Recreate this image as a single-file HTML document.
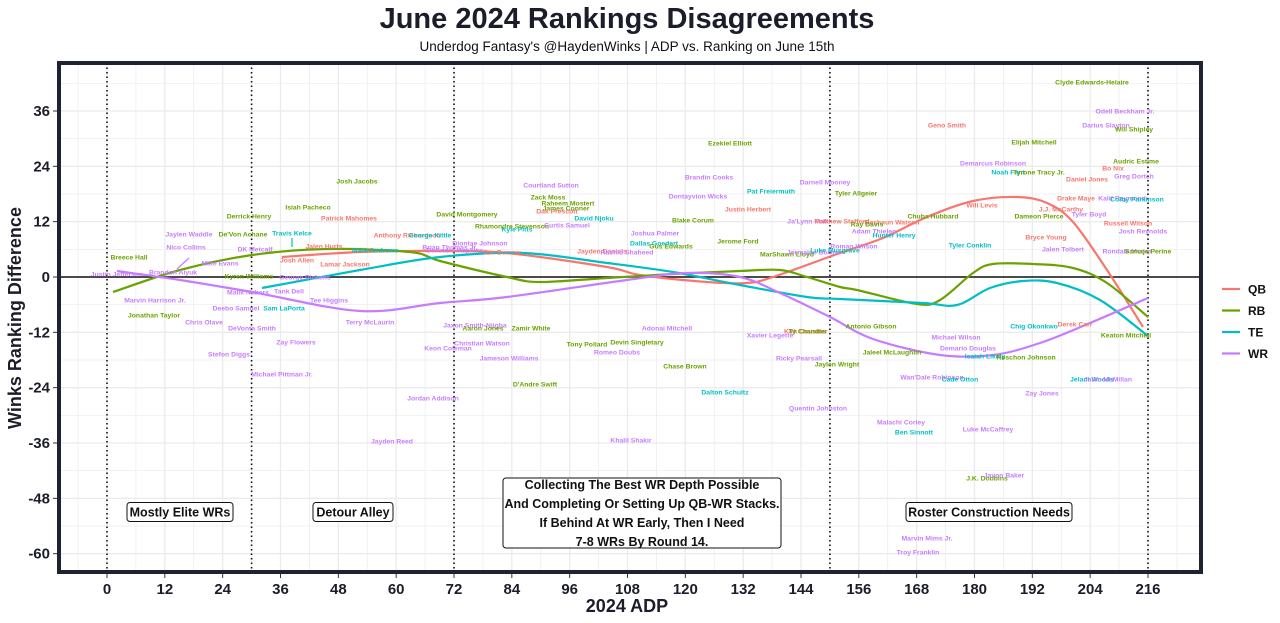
<!DOCTYPE html>
<html><head><meta charset="utf-8"><style>
html,body{margin:0;padding:0;background:#fff;width:1280px;height:623px;overflow:hidden}
svg text{font-family:"Liberation Sans",sans-serif}
</style></head><body>
<svg id="s" width="1280" height="623" xmlns="http://www.w3.org/2000/svg">
<text x="627" y="28" text-anchor="middle" font-size="29" font-weight="bold" fill="#1b1d2a">June 2024 Rankings Disagreements</text>
<text x="627" y="51" text-anchor="middle" font-size="13.5" fill="#111">Underdog Fantasy's @HaydenWinks | ADP vs. Ranking on June 15th</text>
<g id="grid"></g>
<g id="lines"></g>
<g id="labels"></g>
<g id="annot"></g>
<rect x="59" y="63" width="1142" height="509" fill="none" stroke="#1f2230" stroke-width="4"/>
<text transform="translate(21,318) rotate(-90)" text-anchor="middle" font-size="18" font-weight="bold" fill="#1b1d2a">Winks Ranking Difference</text>
<text x="627" y="612" text-anchor="middle" font-size="18" font-weight="bold" fill="#1b1d2a">2024 ADP</text>
<g id="legend"></g>
</svg>
<script>
const NS="http://www.w3.org/2000/svg";
function el(p,t,a,txt){const e=document.createElementNS(NS,t);for(const k in a)e.setAttribute(k,a[k]);if(txt!==undefined)e.textContent=txt;document.getElementById(p).appendChild(e);return e;}
const X=v=>107+v*(1041/216), Y=v=>277-v*(166/36);
// grid
for(let v=-6;v<=228;v+=6){const x=X(v);if(x<60||x>1200)continue;el('grid','line',{x1:x,x2:x,y1:63,y2:572,stroke:'#ebebeb','stroke-width':v%12==0?1.3:0.7});}
for(let v=-66;v<=48;v+=6){const y=Y(v);if(y<63||y>572)continue;el('grid','line',{x1:59,x2:1201,y1:y,y2:y,stroke:'#ebebeb','stroke-width':v%12==0?1.3:0.7});}
for(let v=0;v<=216;v+=12){el('grid','line',{x1:X(v),x2:X(v),y1:573,y2:578,stroke:'#333','stroke-width':1});el('grid','text',{x:X(v),y:594,'text-anchor':'middle','font-size':15,'font-weight':'bold',fill:'#1b1d2a'},String(v));}
for(let v=-60;v<=36;v+=12){el('grid','line',{x1:53,x2:58,y1:Y(v),y2:Y(v),stroke:'#333'});el('grid','text',{x:50,y:Y(v)+5,'text-anchor':'end','font-size':15,'font-weight':'bold',fill:'#1b1d2a'},String(v));}
el('grid','line',{x1:59,x2:1201,y1:277,y2:277,stroke:'#111','stroke-width':1.6});
[0,30,72,150,216].forEach(v=>el('grid','line',{x1:X(v),x2:X(v),y1:63,y2:572,stroke:'#111','stroke-width':1.6,'stroke-dasharray':'1.5,3'}));
const C={QB:'#F8766D',RB:'#6aa300',TE:'#00BFC4',WR:'#C77CFF'};
function path(pts){let d='M'+pts[0].join(',');for(let i=1;i<pts.length;i++){const p0=pts[i-2]||pts[i-1],p1=pts[i-1],p2=pts[i],p3=pts[i+1]||p2;const c1=[p1[0]+(p2[0]-p0[0])/6,p1[1]+(p2[1]-p0[1])/6],c2=[p2[0]-(p3[0]-p1[0])/6,p2[1]-(p3[1]-p1[1])/6];d+=`C${c1} ${c2} ${p2}`;}return d;}
const curves={
RB:[[113,292],[180,270],[252,255],[327,249],[410,252],[440,261],[507,277],[540,282],[607,278],[673,274],[740,271],[780,270],[807,277],[840,287],[857,290],[917,304],[940,300],[973,273],[993,264],[1033,264],[1073,268],[1107,283],[1148,317]],
QB:[[282,257],[360,252],[440,251],[507,253],[607,267],[640,275],[707,282],[747,283],[773,277],[840,253],[883,238],[927,217],[973,201],[1017,197],[1047,203],[1073,222],[1107,270],[1143,327]],
TE:[[262,288],[360,270],[440,257],[523,253],[607,263],[673,272],[740,285],[807,297],[840,299],[923,303],[957,305],[990,288],[1023,281],[1057,283],[1100,300],[1148,336]],
WR:[[117,271],[180,280],[252,292],[360,311],[440,303],[507,297],[627,280],[687,273],[740,277],[780,293],[830,317],[873,339],[940,355],[993,355],[1040,343],[1090,323],[1148,298]]};
for(const k of ['QB','RB','TE','WR'])el('lines','path',{d:path(curves[k]),fill:'none',stroke:C[k],'stroke-width':2.2});
el('lines','line',{x1:177,y1:269,x2:189,y2:258,stroke:C.WR,'stroke-width':1.2});
el('lines','line',{x1:292,y1:238,x2:292,y2:247,stroke:C.TE,'stroke-width':1.2});
const L=[
['Breece Hall',129,257,'RB'],['Justin Jefferson',117,274,'WR'],['Brandon Aiyuk',173,272,'WR'],['Marvin Harrison Jr.',155,300,'WR'],['Jonathan Taylor',154,315,'RB'],['Jaylen Waddle',189,234,'WR'],['Nico Collins',186,247,'WR'],['Mike Evans',220,263,'WR'],['Chris Olave',204,322,'WR'],['Derrick Henry',249,216,'RB'],["De'Von Achane",243,234,'RB'],['DK Metcalf',255,249,'WR'],['Kyren Williams',249,276,'RB'],['Malik Nabers',248,292,'WR'],['Deebo Samuel',236,308,'WR'],['DeVonta Smith',252,328,'WR'],['Stefon Diggs',229,354,'WR'],['Michael Pittman Jr.',282,374,'WR'],['Zay Flowers',296,342,'WR'],['Josh Jacobs',357,181,'RB'],['Isiah Pacheco',308,207,'RB'],['Travis Kelce',292,233,'TE'],['Jalen Hurts',324,246,'QB'],['Josh Allen',297,260,'QB'],['Lamar Jackson',345,264,'QB'],['George Pickens',305,277,'WR'],['Tank Dell',289,291,'WR'],['Sam LaPorta',284,308,'TE'],['Tee Higgins',329,300,'WR'],['Terry McLaurin',370,322,'WR'],['Patrick Mahomes',349,218,'QB'],['Anthony Richardson',407,235,'QB'],['George Kittle',430,235,'TE'],['Mark Andrews',375,250,'TE'],['Brian Thomas Jr.',450,247,'WR'],['DeAndre Hopkins',455,250,'WR'],['Joe Burrow',502,252,'QB'],['Diontae Johnson',480,243,'WR'],['David Montgomery',467,214,'RB'],['Rhamondre Stevenson',512,226,'RB'],['Kyle Pitts',517,229,'TE'],['Jaxon Smith-Njigba',475,325,'WR'],['Aaron Jones',483,328,'RB'],['Christian Watson',482,343,'WR'],['Keon Coleman',448,348,'WR'],['Jameson Williams',509,358,'WR'],['Zamir White',531,328,'RB'],["D'Andre Swift",535,384,'RB'],['Jordan Addison',433,398,'WR'],['Jayden Reed',392,441,'WR'],['Courtland Sutton',551,185,'WR'],['Zack Moss',548,197,'RB'],['Raheem Mostert',568,203,'RB'],['James Conner',566,208,'RB'],['Dak Prescott',557,211,'QB'],['David Njoku',594,218,'TE'],['Curtis Samuel',567,225,'WR'],['Jayden Daniels',602,251,'QB'],['Rashid Shaheed',627,252,'WR'],['Tony Pollard',587,344,'RB'],['Devin Singletary',637,342,'RB'],['Romeo Doubs',617,352,'WR'],['Khalil Shakir',631,440,'WR'],['Adonai Mitchell',667,328,'WR'],['Chase Brown',685,366,'RB'],['Dalton Schultz',725,392,'TE'],['Joshua Palmer',655,233,'WR'],['Dallas Goedert',654,243,'TE'],['Gus Edwards',671,246,'RB'],['Blake Corum',693,220,'RB'],['Ezekiel Elliott',730,143,'RB'],['Brandin Cooks',709,177,'WR'],['Dontayvion Wicks',698,196,'WR'],['Justin Herbert',748,209,'QB'],['Jerome Ford',738,241,'RB'],['Pat Freiermuth',771,191,'TE'],['MarShawn Lloyd',787,254,'RB'],['Darnell Mooney',825,182,'WR'],['Tyler Allgeier',856,193,'RB'],["Ja'Lynn Polk",808,221,'WR'],['Matthew Stafford',842,221,'QB'],['Deshaun Watson',892,222,'QB'],['Ray Davis',867,224,'RB'],['Adam Thielen',874,231,'WR'],['Hunter Henry',894,235,'TE'],['Jermaine Burton',814,252,'WR'],['Luke Musgrave',835,250,'TE'],['Roman Wilson',854,246,'WR'],['Xavier Legette',770,335,'WR'],['Kirk Cousins',805,331,'QB'],['Ty Chandler',808,331,'RB'],['Ricky Pearsall',799,358,'WR'],['Jaylen Wright',837,364,'RB'],['Quentin Johnston',818,408,'WR'],['Antonio Gibson',871,326,'RB'],['Jaleel McLaughlin',892,352,'RB'],['Malachi Corley',901,422,'WR'],['Ben Sinnott',914,432,'TE'],["Wan'Dale Robinson",932,377,'WR'],['Cade Otton',960,379,'TE'],['Michael Wilson',956,337,'WR'],['Demario Douglas',968,348,'WR'],['Isaiah Likely',985,356,'TE'],['Roschon Johnson',1026,357,'RB'],['Luke McCaffrey',988,429,'WR'],['J.K. Dobbins',987,478,'RB'],['Javon Baker',1004,475,'WR'],['Marvin Mims Jr.',927,538,'WR'],['Troy Franklin',918,552,'WR'],['Geno Smith',947,125,'QB'],['Elijah Mitchell',1034,142,'RB'],['Clyde Edwards-Helaire',1092,82,'RB'],['Odell Beckham Jr.',1125,111,'WR'],['Darius Slayton',1106,125,'WR'],['Will Shipley',1134,129,'RB'],['Demarcus Robinson',993,163,'WR'],['Noah Fant',1008,172,'TE'],['Tyrone Tracy Jr.',1039,172,'RB'],['Daniel Jones',1087,179,'QB'],['Audric Estime',1136,161,'RB'],['Bo Nix',1113,168,'QB'],['Greg Dortch',1134,176,'WR'],['Drake Maye',1076,198,'QB'],['Kalif Raymond',1122,198,'WR'],['Colby Parkinson',1137,199,'TE'],['Will Levis',982,205,'QB'],['Chuba Hubbard',933,216,'RB'],['J.J. McCarthy',1061,209,'QB'],['Dameon Pierce',1039,216,'RB'],['Tyler Boyd',1089,214,'WR'],['Russell Wilson',1128,223,'QB'],['Josh Reynolds',1143,231,'WR'],['Bryce Young',1046,237,'QB'],['Tyler Conklin',970,245,'TE'],['Jalen Tolbert',1063,249,'WR'],['Rondale Moore',1127,251,'WR'],['Samaje Perine',1148,251,'RB'],['Chig Okonkwo',1034,326,'TE'],['Derek Carr',1075,324,'QB'],['Keaton Mitchell',1126,335,'RB'],['Jelani Woods',1092,379,'TE'],['Jalen McMillan',1108,379,'WR'],['Zay Jones',1042,393,'WR']];
L.forEach(([t,x,y,c])=>el('labels','text',{x:x,y:y+2.5,'text-anchor':'middle','font-size':6.8,'font-weight':'bold',fill:C[c]},t));
function box(cx,cy,w,h,lines){el('annot','rect',{x:cx-w/2,y:cy-h/2,width:w,height:h,rx:3,fill:'#fff',stroke:'#111','stroke-width':1});lines.forEach((t,i)=>el('annot','text',{x:cx,y:cy-(lines.length-1)*9.5+i*19+4.5,'text-anchor':'middle','font-size':12.5,'font-weight':'bold',fill:'#111'},t));}
box(180,512,106,19,['Mostly Elite WRs']);box(353,512,80,19,['Detour Alley']);box(989,512,166,19,['Roster Construction Needs']);
box(642,513,278,70,['Collecting The Best WR Depth Possible','And Completing Or Setting Up QB-WR Stacks.','If Behind At WR Early, Then I Need','7-8 WRs By Round 14.']);
['QB','RB','TE','WR'].forEach((k,i)=>{const y=289+i*21.5;el('legend','line',{x1:1222,x2:1240,y1:y,y2:y,stroke:C[k],'stroke-width':2.2});el('legend','text',{x:1248,y:y+4.5,'font-size':12,'font-weight':'bold',fill:'#111'},k);});
</script>
</body></html>
